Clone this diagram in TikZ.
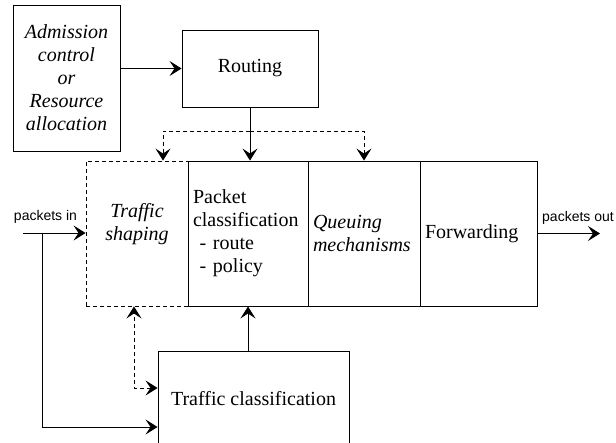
\documentclass[tikz,border=0pt]{standalone}
\usepackage{fontspec}
\setmainfont{Liberation Serif}
\newfontfamily\labelfont{Liberation Sans}
\usetikzlibrary{arrows.meta, positioning, calc}

\tikzset{
    blk/.style={draw, line width=0.9pt, inner sep=0pt, font=\fontsize{20}{23}\selectfont},
    lblk/.style={blk, align=left, inner xsep=5pt},
    io/.style={font=\labelfont\fontsize{14}{16}\selectfont},
    tip/.style={-{Stealth[length=12pt, width=15pt, inset=5pt]}},
    flow/.style={line width=1pt, tip},
    dflow/.style={flow, dash pattern=on 4pt off 3pt}
}

\begin{document}
\begin{tikzpicture}[x=1pt, y=-1pt]
                        \useasboundingbox (0, 0) rectangle (616, 442);
                        \begin{scope}
                        \clip (0, 0) rectangle (616, 442);

                        \node[blk, minimum width=107pt, minimum height=146pt, align=center, font=\itshape\fontsize{20}{23}\selectfont] (adm) at (66.5, 78) {Admission\\control\\or\\Resource\\allocation};
                        \node[blk, minimum width=136pt, minimum height=77pt] (routing) at (250, 68.5) {Routing};

                        \node[blk, dash pattern=on 4pt off 3pt, minimum width=102pt, minimum height=145pt, align=center, font=\itshape\fontsize{20}{23}\selectfont] (shaping) at (137, 233.5) {Traffic\\shaping\\~};
                        \node[lblk, text width=110pt, minimum height=145pt] (pktclass) at (248, 233.5) {Packet\\classification\\\ - route\\\ - policy};
                        \node[lblk, text width=102pt, minimum height=145pt, font=\itshape\fontsize{20}{23}\selectfont] (queuing) at (364, 233.5) {Queuing\\mechanisms};
                        \node[lblk, text width=107pt, minimum height=145pt] (fwd) at (478.5, 233.5) {Forwarding};

                        \node[blk, minimum width=191pt, minimum height=96pt] (tclass) at (253.5, 399) {Traffic classification};

                        \coordinate (pin) at (23, 233);
                        \coordinate (inbr) at (42, 233);
                        \coordinate (pout) at (600, 233.5);
                        \coordinate (split) at (250, 131);
                        \node[io] (inlbl) at (45.5, 217) {packets in};
                        \node[io] (outlbl) at (578, 218) {packets out};

                        \draw
                        (routing.west -| adm.east) edge[flow] (routing.west)
                        (routing.south) edge[flow] (routing.south |- pktclass.north)
                        (pin) edge[flow] (pin -| shaping.west)
                        (tclass.north -| pktclass.south) edge[flow] (pktclass.south)
                        (fwd.east) edge[flow] (pout);

                        \draw[dflow] (split) -| ([xshift=26pt]shaping.north);
                        \draw[dflow] (split) -| (queuing.north);
                        \draw[flow] (inbr) |- ([yshift=-28pt]tclass.west);
                        \draw[dflow, {Stealth[length=12pt, width=15pt, inset=5pt]}-{Stealth[length=12pt, width=15pt, inset=5pt]}] ([yshift=11pt]tclass.west) -| ([xshift=-3pt]shaping.south);
                        \end{scope}
                    \end{tikzpicture}
\end{document}
